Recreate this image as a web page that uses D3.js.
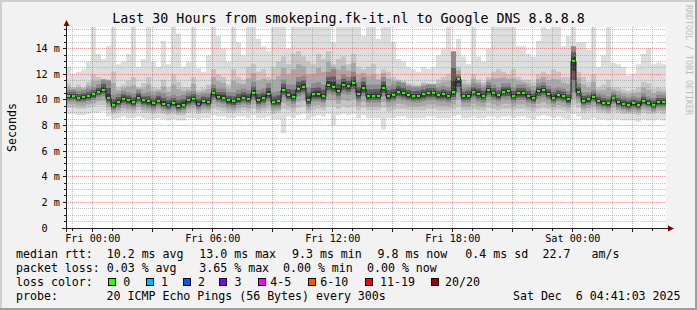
<!DOCTYPE html>
<html><head><meta charset="utf-8">
<script src="https://cdn.jsdelivr.net/npm/d3@7"></script>
<style>
html,body{margin:0;padding:0;background:#f2f2f2;}
svg{display:block;font-family:"DejaVu Sans Mono",monospace;}
text{white-space:pre;}
</style></head><body>
<svg id="chart" width="697" height="310"></svg>
<script>
// ---------- data ----------
const title = "Last 30 Hours from smokeping.fk-it.nl to Google DNS 8.8.8.8";
const yAxisTitle = "Seconds";
const watermark = "RRDTOOL / TOBI OETIKER";
const startTime = "2025-12-04T22:41:03Z";
const endTime = "2025-12-06T04:41:03Z";
const stepMinutes = 15;
const yTicks = [0, 2, 4, 6, 8, 10, 12, 14];
const yTickLabels = ["0  ", "2 m", "4 m", "6 m", "8 m", "10 m", "12 m", "14 m"];

// median rtt (ms), one value per 15 minutes
const median = [
10.26,10.30,10.10,10.18,10.26,10.39,10.60,10.75,10.10,9.58,9.84,10.05,9.95,9.78,10.15,9.92,9.85,9.70,9.90,9.66,9.55,9.72,9.50,9.60,
9.92,10.05,9.66,9.90,9.80,10.50,10.20,10.15,9.92,9.85,10.00,10.15,10.05,10.50,9.95,10.10,10.45,9.80,9.85,10.75,10.35,10.20,10.85,11.00,
9.95,10.40,10.40,10.25,11.15,11.00,10.70,11.15,11.05,11.30,10.45,10.90,10.25,10.30,10.30,10.90,10.25,10.35,10.60,10.50,10.35,10.25,10.30,10.40,
10.50,10.50,10.35,10.40,10.30,10.55,11.60,10.25,10.30,10.60,10.45,10.30,10.75,10.50,10.35,10.60,10.65,10.30,10.50,10.50,10.30,10.10,10.65,10.75,
10.45,10.15,10.35,10.25,10.00,13.00,10.60,9.90,10.00,10.20,9.90,9.75,9.70,10.10,9.80,9.65,9.60,9.70,9.60,9.90,9.75,9.60,9.80,9.80];
// loss colour class per interval (0 = no loss, 1 = 1 lost ping)
const loss = [
0,0,0,0,0,0,0,0,0,0,0,0,0,0,0,0,0,0,0,0,1,0,0,0,
0,0,1,0,0,0,0,0,0,0,0,0,0,0,0,0,0,0,0,0,0,0,0,0,
0,0,0,0,0,0,0,0,0,0,0,0,0,0,0,0,0,0,0,0,0,0,0,0,
0,0,0,0,0,0,0,0,0,0,0,0,0,0,0,0,0,0,0,0,0,0,0,0,
0,0,0,0,0,0,0,0,0,0,0,0,0,0,0,0,0,0,0,0,0,0,0,0];
// smoke: slowest ping (ms)
const smokeMax = [
12.6,12.0,12.2,12.4,13.0,15.8,13.6,13.2,14.2,15.8,12.8,13.0,13.6,15.8,12.6,13.2,15.8,13.0,12.6,14.6,12.8,15.8,15.2,12.6,
13.0,15.8,12.5,12.2,13.5,15.8,15.0,14.0,13.0,15.8,14.5,13.5,15.8,15.8,14.8,14.2,13.8,15.8,15.8,15.8,14.0,15.8,15.8,15.8,
15.8,15.8,15.8,15.8,15.8,14.5,15.8,15.8,15.8,15.8,15.8,15.0,15.8,15.8,14.8,15.8,15.8,14.5,13.2,13.0,12.6,12.4,12.2,12.6,
12.4,12.6,13.5,14.0,15.8,13.5,14.8,13.4,12.8,15.8,13.4,13.0,14.0,15.8,15.8,15.8,15.8,15.8,14.2,14.2,13.6,13.4,14.6,15.8,
15.5,15.8,15.8,14.2,15.0,15.8,14.5,14.5,13.9,15.8,12.6,13.5,15.8,12.9,12.8,12.6,11.9,12.0,12.8,13.6,14.0,12.8,12.9,12.8];
// smoke: upper edge of the middle band (ms)
const smokeHigh = [
11.3,11.0,11.2,11.0,11.4,12.0,11.8,11.6,11.6,12.2,11.0,11.2,11.5,11.8,11.0,11.3,11.8,11.0,10.9,11.6,11.0,12.0,11.4,11.0,
11.0,11.8,10.8,10.9,11.2,12.4,12.0,11.8,11.2,12.4,11.8,11.6,12.6,12.8,12.2,12.4,11.8,12.6,13.0,13.4,12.8,13.6,13.8,13.4,
13.0,12.8,13.6,13.2,13.8,12.8,13.2,13.4,12.8,13.6,12.6,12.4,12.6,12.8,12.0,12.4,12.2,11.8,11.6,11.5,11.3,11.2,11.2,11.4,
11.3,11.2,11.6,11.8,12.0,11.6,12.6,11.6,11.4,12.0,11.6,11.4,11.8,12.2,12.4,12.2,12.0,12.4,11.8,11.6,11.6,11.4,12.0,12.2,
12.0,12.4,12.2,11.8,11.8,14.0,12.2,11.8,11.4,12.0,11.0,11.2,11.6,11.0,11.0,10.8,10.7,10.8,11.0,11.4,11.3,10.9,11.0,10.9];
// smoke: upper edge of the dark core (ms)
const coreHigh = [
10.8,10.8,10.7,10.8,10.9,11.0,11.2,11.6,11.5,10.4,10.5,10.7,10.6,10.5,10.8,10.5,10.6,10.4,10.6,10.5,10.3,10.4,10.3,10.4,
10.6,10.7,10.4,10.5,10.5,11.2,10.9,10.9,10.6,10.6,10.8,10.9,10.8,11.4,10.8,10.9,11.3,10.6,10.7,11.6,11.2,11.2,11.8,11.9,
11.0,11.3,11.4,11.2,12.2,12.4,11.6,12.0,11.8,12.2,11.4,11.8,11.2,11.2,11.2,11.8,11.1,11.2,11.4,11.3,11.1,11.0,11.0,11.1,
11.2,11.2,11.0,11.1,11.0,13.8,12.0,10.9,11.0,11.3,11.2,11.0,11.4,11.2,11.0,11.3,11.3,11.0,11.2,11.2,11.0,10.8,11.3,11.4,
11.1,10.9,11.0,10.9,10.7,14.2,11.3,10.6,10.6,10.8,10.5,10.4,10.3,10.6,10.4,10.3,10.2,10.3,10.2,10.5,10.3,10.2,10.4,10.4];
// smoke: lower edge of the dark core (ms)
const coreLow = [
9.9,9.9,9.8,9.8,9.9,10.0,10.2,10.3,9.7,9.2,9.4,9.6,9.5,9.4,9.7,9.5,9.4,9.3,9.5,9.3,9.2,9.3,9.1,9.2,
9.5,9.6,9.3,9.5,9.4,10.0,9.8,9.7,9.5,9.4,9.6,9.7,9.6,10.0,9.5,9.6,9.9,9.4,9.4,10.2,9.9,9.7,10.3,10.4,
9.5,9.9,9.9,9.8,10.5,10.4,10.1,10.5,10.4,10.6,9.9,10.3,9.8,9.8,9.8,10.3,9.8,9.9,10.1,10.0,9.9,9.8,9.8,9.9,
10.0,10.0,9.9,9.9,9.8,10.0,10.6,9.8,9.8,10.1,9.9,9.8,10.2,10.0,9.9,10.1,10.1,9.8,10.0,10.0,9.8,9.7,10.1,10.2,
10.0,9.7,9.9,9.8,9.6,10.6,10.1,9.5,9.6,9.8,9.5,9.4,9.3,9.7,9.4,9.3,9.2,9.3,9.2,9.5,9.4,9.2,9.4,9.4];
// smoke: lower edge of the middle band (ms)
const smokeLow = [
9.4,9.4,9.3,9.3,9.4,9.5,9.6,9.6,9.2,8.9,9.0,9.1,9.0,9.0,9.2,9.0,9.0,8.9,9.0,8.9,8.8,8.9,8.8,8.8,
9.0,9.1,8.9,9.0,9.0,9.3,9.2,9.1,9.0,9.0,9.1,9.2,9.1,9.3,9.0,9.1,9.2,8.9,9.0,9.3,9.2,9.1,9.4,9.5,
9.0,9.2,9.3,9.2,9.5,9.5,9.3,9.5,9.4,9.5,9.2,9.4,9.2,9.2,9.2,9.4,9.1,9.2,9.3,9.3,9.2,9.2,9.2,9.2,
9.3,9.3,9.2,9.2,9.2,9.3,9.5,9.2,9.2,9.3,9.2,9.2,9.4,9.3,9.2,9.3,9.3,9.2,9.3,9.3,9.2,9.1,9.3,9.4,
9.3,9.2,9.3,9.2,9.1,9.6,9.4,9.0,9.1,9.2,9.0,9.0,8.9,9.1,9.0,8.9,8.9,8.9,8.8,9.0,8.9,8.9,9.0,8.9];
// smoke: fastest ping (ms)
const smokeMin = [
8.9,8.9,8.8,8.8,8.9,9.0,9.0,9.1,8.7,8.5,8.6,8.7,8.6,8.6,8.7,8.6,8.5,8.5,8.6,8.5,8.4,8.5,8.4,8.4,
8.6,8.6,8.5,8.6,8.6,8.8,8.7,8.7,8.6,8.6,8.7,8.7,8.6,8.8,8.6,8.6,8.7,8.5,8.5,7.4,8.7,8.6,8.8,8.9,
8.5,8.7,8.8,8.7,8.9,8.0,8.8,8.9,8.8,8.9,8.6,8.8,8.6,8.6,8.6,7.7,8.6,8.6,8.7,8.7,8.6,8.6,8.6,8.6,
8.7,8.7,8.6,8.6,8.6,8.7,8.8,8.6,8.6,8.7,8.6,8.6,8.7,8.7,8.6,8.7,8.7,8.6,8.7,8.7,8.6,8.5,8.7,8.8,
8.7,8.6,8.7,8.6,8.5,8.9,8.7,8.5,8.5,8.6,8.5,8.5,8.4,8.5,8.5,8.4,8.4,8.4,8.3,8.5,8.4,8.4,8.5,8.4];

const legendMedian = ["median rtt:  10.2 ms avg", "13.0 ms max", "9.3 ms min", "9.8 ms now", "0.4 ms sd", "22.7   am/s"];
const legendLoss = ["packet loss: 0.03 % avg", "3.65 % max", "0.00 % min", "0.00 % now"];
const lossColorTitle = "loss color:";
const lossColorLabels = ["0", "1", "2", "3", "4-5", "6-10", "11-19", "20/20"];
const lossColors = ["#26ff00", "#00b8ff", "#0059ff", "#7e00ff", "#ff00ff", "#ff5500", "#ff0000", "#a00000"];
const probeRow = ["probe:", "20 ICMP Echo Pings (56 Bytes) every 300s"];
const dateStamp = "Sat Dec  6 04:41:03 2025";

// ---------- drawing ----------
const W = 697, H = 310;
const L = 66, R = 666, T = 27, B = 228;
const svg = d3.select("#chart");
const t0 = new Date(startTime), t1 = new Date(endTime);
const x = d3.scaleUtc().domain([t0, t1]).range([L, R]);
const y = d3.scaleLinear().domain([0, 15.7]).range([B, T]);
const crisp = v => Math.floor(v) + 0.5;

// background + 3d frame
svg.append("rect").attr("width", W).attr("height", H).attr("fill", "#f2f2f2");
svg.append("rect").attr("x", 0).attr("y", 0).attr("width", W).attr("height", 2).attr("fill", "#cfcfcf");
svg.append("rect").attr("x", 0).attr("y", 0).attr("width", 2).attr("height", H).attr("fill", "#cfcfcf");
svg.append("rect").attr("x", 0).attr("y", H - 2).attr("width", W).attr("height", 2).attr("fill", "#9e9e9e");
svg.append("rect").attr("x", W - 2).attr("y", 0).attr("width", 2).attr("height", H).attr("fill", "#9e9e9e");

// canvas
svg.append("rect").attr("x", L).attr("y", T).attr("width", R - L).attr("height", B - T).attr("fill", "#ffffff");
svg.append("clipPath").attr("id", "plotclip").append("rect")
  .attr("x", L).attr("y", T).attr("width", R - L).attr("height", B - T);

// data points
const pts = median.map((m, i) => ({
  t: d3.utcMinute.offset(t0, i * stepMinutes), m, loss: loss[i],
  max: smokeMax[i], hi: smokeHigh[i], chi: coreHigh[i], clo: coreLow[i], lo: smokeLow[i], min: smokeMin[i]
}));
const ptsEnd = pts.concat([Object.assign({}, pts[pts.length - 1], { t: t1 })]);

// smoke: nested bands, outer = light, inner = dark (like smokeping's sorted-ping areas)
const plot = svg.append("g").attr("clip-path", "url(#plotclip)");
const bandFn = (loF, hiF) => d3.area().x(d => x(d.t)).y0(d => y(loF(d))).y1(d => y(hiF(d))).curve(d3.curveStepAfter);
const mix = (a, b, k) => a + (b - a) * k;
const layers = [
  [d => d.min, d => d.max, "#dddddd"],
  [d => d.lo, d => d.hi, "#c4c4c4"],
  [d => mix(d.lo, d.clo, 0.5), d => mix(d.hi, d.chi, 0.5), "#a8a8a8"],
  [d => d.clo, d => d.chi, "#8a8a8a"],
  [d => mix(d.m, d.clo, 0.6), d => mix(d.m, d.chi, 0.6), "#5c5c5c"],
  [d => mix(d.m, d.clo, 0.3), d => mix(d.m, d.chi, 0.3), "#363636"]
];
layers.forEach(([lo, hi, col]) => {
  plot.append("path").datum(ptsEnd).attr("d", bandFn(lo, hi)).attr("fill", col);
});

// grid (drawn over the smoke, semi transparent)
const grid = svg.append("g");
const minorY = d3.range(0.5, 15.7, 0.5).filter(v => v % 2 !== 0);
grid.selectAll(".hmin").data(minorY).enter().append("line")
  .attr("x1", L).attr("x2", R).attr("y1", d => crisp(y(d))).attr("y2", d => crisp(y(d)))
  .attr("stroke", "rgba(143,143,143,0.55)").attr("stroke-dasharray", "1,1");
const hours = d3.utcHour.every(1).range(t0, t1);
grid.selectAll(".vmin").data(hours.filter(h => h.getUTCHours() % 3 !== 0)).enter().append("line")
  .attr("x1", d => crisp(x(d))).attr("x2", d => crisp(x(d))).attr("y1", T).attr("y2", B)
  .attr("stroke", "rgba(143,143,143,0.55)").attr("stroke-dasharray", "1,1");
grid.selectAll(".hmaj").data(yTicks.filter(v => v > 0)).enter().append("line")
  .attr("x1", L).attr("x2", R).attr("y1", d => crisp(y(d))).attr("y2", d => crisp(y(d)))
  .attr("stroke", "rgba(222,79,79,0.55)").attr("stroke-dasharray", "1,1");
grid.selectAll(".vmaj").data(hours.filter(h => h.getUTCHours() % 3 === 0)).enter().append("line")
  .attr("x1", d => crisp(x(d))).attr("x2", d => crisp(x(d))).attr("y1", T).attr("y2", B)
  .attr("stroke", "rgba(222,79,79,0.55)").attr("stroke-dasharray", "1,1");

// median line + loss-coloured marks
plot.append("path").datum(ptsEnd)
  .attr("d", d3.line().x(d => x(d.t)).y(d => crisp(y(d.m))).curve(d3.curveStepAfter))
  .attr("fill", "none").attr("stroke", "#1a1a1a").attr("stroke-width", 1);
plot.selectAll(".mk").data(pts).enter().append("rect")
  .attr("x", d => Math.round(x(d.t)) + 1).attr("width", 3)
  .attr("y", d => Math.floor(y(d.m)) - 1).attr("height", 2)
  .attr("fill", d => lossColors[d.loss]);

// axes
const axisCol = "#1f1f1f";
svg.append("line").attr("x1", L - 4).attr("x2", R + 4).attr("y1", B + 0.5).attr("y2", B + 0.5).attr("stroke", axisCol);
svg.append("line").attr("x1", L + 0.5).attr("x2", L + 0.5).attr("y1", B + 4).attr("y2", T - 3).attr("stroke", axisCol);
svg.append("path").attr("d", `M${R + 2},${B - 2.5}L${R + 8},${B + 0.5}L${R + 2},${B + 3.5}Z`).attr("fill", "#7f0000");
svg.append("path").attr("d", `M${L - 2.5},${T - 1}L${L + 0.5},${T - 7}L${L + 3.5},${T - 1}Z`).attr("fill", "#7f0000");
// ticks
svg.selectAll(".xt").data(hours).enter().append("line")
  .attr("x1", d => crisp(x(d))).attr("x2", d => crisp(x(d)))
  .attr("y1", B + 1).attr("y2", d => B + (d.getUTCHours() % 3 === 0 ? 4 : 3))
  .attr("stroke", axisCol);
svg.selectAll(".yt").data(d3.range(0.5, 15.7, 0.5)).enter().append("line")
  .attr("y1", d => crisp(y(d))).attr("y2", d => crisp(y(d)))
  .attr("x1", d => L - (d % 2 === 0 ? 3 : 2)).attr("x2", L)
  .attr("stroke", axisCol);

// tick labels
svg.selectAll(".yl").data(yTicks).enter().append("text")
  .attr("x", 60).attr("y", d => y(d) + 3.5).attr("text-anchor", "end")
  .attr("font-size", 10.2).attr("fill", "#000").attr("xml:space", "preserve")
  .text((d, i) => yTickLabels[i]);
const fmt = d3.utcFormat("%a %H:%M");
svg.selectAll(".xl").data(hours.filter(h => h.getUTCHours() % 6 === 0)).enter().append("text")
  .attr("x", d => x(d) + 0.5).attr("y", 242).attr("text-anchor", "middle")
  .attr("font-size", 10.2).attr("fill", "#000").text(d => fmt(d));

// title, axis title, watermark
svg.append("text").attr("x", 348.5).attr("y", 23).attr("text-anchor", "middle")
  .attr("font-size", 13.3).attr("fill", "#000").text(title);
svg.append("text").attr("transform", "translate(15.5,127.5) rotate(-90)").attr("text-anchor", "middle")
  .attr("font-size", 11.6).attr("fill", "#000").text(yAxisTitle);
svg.append("text").attr("transform", "translate(686,5) rotate(90)").attr("text-anchor", "start")
  .attr("font-size", 8.3).attr("fill", "#bdbdbd").text(watermark);

// legend
const lg = svg.append("g").attr("font-size", 11.6).attr("fill", "#000").attr("xml:space", "preserve");
const row1X = [16, 199.3, 292, 377.5, 465.3, 542.6];
lg.selectAll(".r1").data(legendMedian).enter().append("text")
  .attr("x", (d, i) => row1X[i]).attr("y", 257.5).text(d => d);
const row2X = [16, 199.3, 283, 367];
lg.selectAll(".r2").data(legendLoss).enter().append("text")
  .attr("x", (d, i) => row2X[i]).attr("y", 271.5).text(d => d);
lg.append("text").attr("x", 16).attr("y", 285.5).text(lossColorTitle);
const swX = [108, 145.7, 182.7, 219.3, 257.7, 307.7, 365, 430.7];
const labX = [123.3, 161, 198, 234.6, 270.3, 320.3, 380, 445];
lossColorLabels.forEach((lab, i) => {
  lg.append("rect").attr("x", Math.round(swX[i]) + 0.5).attr("y", 278.5).attr("width", 7).attr("height", 7)
    .attr("fill", lossColors[i]).attr("stroke", "#000").attr("stroke-width", 1);
  lg.append("text").attr("x", labX[i]).attr("y", 285.5).text(lab);
});
lg.append("text").attr("x", 16).attr("y", 299.5).text(probeRow[0]);
lg.append("text").attr("x", 106.6).attr("y", 299.5).text(probeRow[1]);
lg.append("text").attr("x", 680.5).attr("y", 299.5).attr("text-anchor", "end").text(dateStamp);
</script>
</body></html>
